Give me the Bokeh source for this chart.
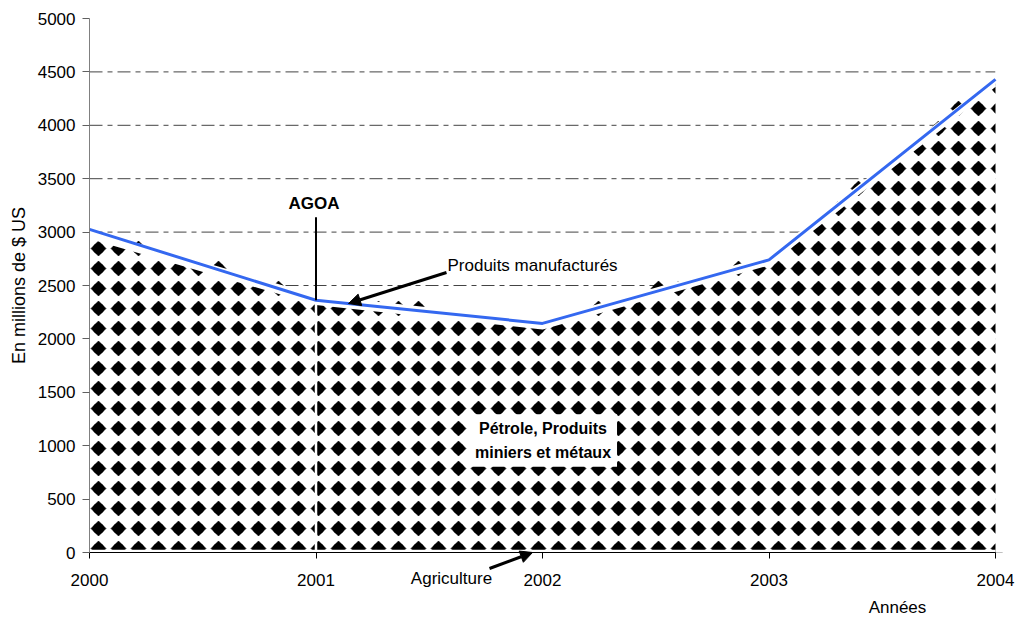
import math
import numpy as np
from bokeh.plotting import figure
from bokeh.models import ColumnDataSource, FixedTicker, Label, Arrow, NormalHead
from bokeh.transform import stack
from bokeh.embed import file_html
from bokeh.resources import INLINE

# ---- data (millions of US$) ----
years = [2000, 2001, 2002, 2003, 2004]
agriculture = [25, 25, 25, 25, 25]
petrole = [2925, 2305, 2075, 2675, 4350]
manufactures = [75, 32, 45, 40, 55]
y_ticks = [0, 500, 1000, 1500, 2000, 2500, 3000, 3500, 4000, 4500, 5000]
x_ticks = [2000, 2001, 2002, 2003, 2004]

agoa_year = 2001
agoa_top = 3140

# ---- layout geometry (pixels): the frame covers the whole canvas ----
W, H = 1016, 618
X0_PX, X1_PX = 89, 995          # pixel columns of 2000 and 2004
Y0_PX, Y1_PX = 552, 18          # pixel rows of 0 and 5000
UX = (x_ticks[-1] - x_ticks[0]) / (X1_PX - X0_PX)
UY = (y_ticks[-1] - y_ticks[0]) / (Y0_PX - Y1_PX)
X_START = x_ticks[0] - X0_PX * UX
X_END = x_ticks[0] + (W - X0_PX) * UX
Y_START = -(H - Y0_PX) * UY
Y_END = y_ticks[-1] + Y1_PX * UY


def px_x(px):
    return x_ticks[0] + (px - X0_PX) * UX


def px_y(px):
    return (Y0_PX - px) * UY


src = ColumnDataSource(dict(years=years, agri=agriculture, petrole=petrole,
                            manuf=manufactures))

FONT = "Liberation Sans"
FS = "17px"

p = figure(width=W, height=H, x_range=(X_START, X_END),
           y_range=(Y_START, Y_END), output_backend="svg",
           toolbar_location=None, min_border=0)
p.outline_line_color = None
p.background_fill_color = "white"
p.border_fill_color = "white"
p.xgrid.visible = False
p.ygrid.visible = False

# ---- dash-dot gridlines (behind the areas) ----
grid_y = y_ticks[1:-1]
p.segment(x0=[x_ticks[0]] * len(grid_y), y0=grid_y,
          x1=[x_ticks[-1]] * len(grid_y), y1=grid_y,
          line_color="#444444", line_width=1, line_dash="13 5 5 5")

# ---- stacked tops ----
petro_top = [a + b for a, b in zip(agriculture, petrole)]
total_top = [a + b + c for a, b, c in zip(agriculture, petrole, manufactures)]

# pétrole area: white base ...
p.varea(x="years", y1=stack("agri"), y2=stack("agri", "petrole"), source=src,
        fill_color="white")

# ... filled with a diamond texture (20 px grid) clipped to the area
R_PX = 7.5
tex_x, tex_y = [], []
cx_px = X0_PX + 9
while cx_px <= X1_PX + R_PX:
    cx = px_x(cx_px)
    top_here = float(np.interp(cx, years, petro_top))
    cy_px = Y0_PX - 4
    while px_y(cy_px) - R_PX * UY <= top_here:
        tex_x.append(cx)
        tex_y.append(px_y(cy_px))
        cy_px -= 20
    cx_px += 20
p.scatter(tex_x, tex_y, marker="square", size=R_PX * math.sqrt(2),
          angle=math.pi / 4, fill_color="black", line_color="black",
          line_width=0.6)
p.scatter(tex_x, tex_y, marker="circle", size=11.2, fill_color="black",
          line_color=None)

# clip the texture: white band above the pétrole area, below the axis,
# right of 2004
band_top = [pt + max(m, 80) for pt, m in zip(petro_top, manufactures)]
p.varea(x=years, y1=petro_top, y2=band_top, fill_color="white")
p.varea(x="years", y1=stack("agri", "petrole"),
        y2=stack("agri", "petrole", "manuf"), source=src, fill_color="white")
p.varea(x="years", y1=0, y2="agri", source=src, fill_color="white")
p.varea(x=[X_START, X_END], y1=[Y_START] * 2, y2=[0] * 2, fill_color="white")
p.varea(x=[x_ticks[-1], X_END], y1=[0] * 2, y2=[Y_END] * 2,
        fill_color="white")

p.line(x="years", y=stack("agri", "petrole"), source=src,
       line_color="white", line_width=2.5)
p.line(x="years", y=stack("agri", "petrole", "manuf"), source=src,
       line_color="#3468f0", line_width=3)

# ---- AGOA marker ----
i_agoa = years.index(agoa_year)
p.segment(x0=[agoa_year], y0=[0], x1=[agoa_year], y1=[petro_top[i_agoa]],
          line_color="white", line_width=2.5)
p.segment(x0=[agoa_year], y0=[total_top[i_agoa]], x1=[agoa_year],
          y1=[agoa_top], line_color="black", line_width=2)
p.add_layout(Label(x=agoa_year - 2 * UX, y=px_y(203), text="AGOA",
                   text_font=FONT, text_font_size=FS, text_font_style="bold",
                   text_align="center", text_baseline="middle",
                   text_color="black"))

# ---- annotations ----
p.add_layout(Label(x=px_x(447), y=px_y(265), text="Produits manufacturés",
                   text_font=FONT, text_font_size=FS, text_align="left",
                   text_baseline="middle", text_color="black"))
p.add_layout(Arrow(x_start=px_x(446), y_start=px_y(272),
                   x_end=px_x(348), y_end=px_y(303),
                   line_width=3, line_color="black",
                   end=NormalHead(size=12, fill_color="black",
                                  line_color="black")))

p.add_layout(Label(x=px_x(451), y=px_y(578), text="Agriculture",
                   text_font=FONT, text_font_size=FS, text_align="center",
                   text_baseline="middle", text_color="black"))
p.add_layout(Arrow(x_start=px_x(489), y_start=px_y(568),
                   x_end=px_x(532), y_end=px_y(552),
                   line_width=3, line_color="black",
                   end=NormalHead(size=12, fill_color="black",
                                  line_color="black")))

p.add_layout(Label(x=px_x(542.5), y=px_y(440),
                   text="Pétrole, Produits\nminiers et métaux",
                   text_font=FONT, text_font_size="16px",
                   text_font_style="bold",
                   text_align="center", text_baseline="middle",
                   text_line_height=1.38, text_color="black",
                   background_fill_color="white", padding=6))

p.add_layout(Label(x=px_x(897), y=px_y(607), text="Années", text_font=FONT,
                   text_font_size=FS, text_align="center",
                   text_baseline="middle", text_color="black"))

p.add_layout(Label(x=px_x(18), y=px_y(285), text="En millions de $ US",
                   angle=math.pi / 2, text_font=FONT, text_font_size="18px",
                   text_align="center", text_baseline="middle",
                   text_color="black"))

# ---- axes (fixed at 2000 and 0) ----
p.xaxis.fixed_location = 0
p.xaxis.bounds = (x_ticks[0], x_ticks[-1])
p.xaxis.ticker = FixedTicker(ticks=x_ticks)
p.xaxis.major_label_overrides = {t: str(t) for t in x_ticks}
p.xaxis.axis_line_color = "black"
p.xaxis.major_tick_line_color = "black"
p.xaxis.major_tick_out = 6
p.xaxis.major_tick_in = 0
p.xaxis.minor_tick_line_color = None
p.xaxis.major_label_standoff = 15
p.xaxis.major_label_text_font = FONT
p.xaxis.major_label_text_font_size = FS
p.xaxis.major_label_text_color = "black"

p.yaxis.fixed_location = x_ticks[0]
p.yaxis.bounds = (y_ticks[0], y_ticks[-1])
p.yaxis.ticker = FixedTicker(ticks=y_ticks)
p.yaxis.axis_line_color = "#808080"
p.yaxis.major_tick_line_color = "#606060"
p.yaxis.major_tick_out = 7
p.yaxis.major_tick_in = 0
p.yaxis.minor_tick_line_color = None
p.yaxis.major_label_standoff = 7
p.yaxis.major_label_text_font = FONT
p.yaxis.major_label_text_font_size = FS
p.yaxis.major_label_text_color = "black"

open("out.html", "w").write(file_html(p, INLINE))
